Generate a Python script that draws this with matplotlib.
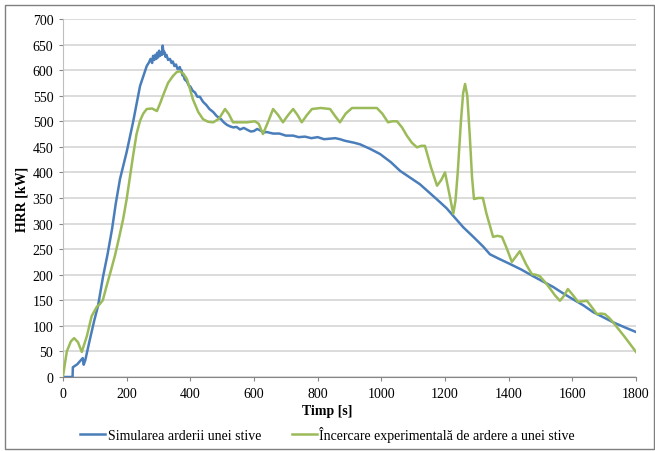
from matplotlib import pyplot as plt
from matplotlib.patches import Rectangle
import numpy as np

# Simulation (blue)
sim_t = [0, 30, 31, 45, 62, 65, 70, 85, 98, 110, 126, 140, 154, 166, 179, 200, 220,
         242, 263, 270, 275, 280, 283, 287, 290, 293, 296, 299, 302, 305, 308, 311, 313,
         316, 318, 322, 325, 330, 336, 341, 345, 350, 355, 360, 367, 370, 372, 375, 378,
         382, 389, 395, 400, 407, 415, 422, 430, 440, 450, 460, 472, 483, 495, 505, 515,
         525, 535, 545, 556, 568, 580, 590, 600, 610, 620, 630, 640, 660, 680, 700, 723,
         740, 760, 780, 800, 820, 839, 855, 870, 885, 900, 915, 933, 965, 996, 1030, 1059,
         1090, 1121, 1150, 1184, 1205, 1226, 1257, 1289, 1320, 1341, 1370, 1404, 1440,
         1477, 1510, 1540, 1570, 1602, 1635, 1665, 1700, 1728, 1765, 1800]
sim_v = [0, 0, 19, 25, 37, 24, 33, 75, 110, 139, 197, 240, 289, 340, 387, 440, 498,
         569, 608, 615, 622, 614, 628, 620, 630, 622, 634, 625, 638, 628, 634, 630, 648,
         632, 636, 626, 630, 620, 622, 614, 617, 608, 611, 602, 606, 598, 600, 590, 592,
         582, 578, 570, 568, 560, 556, 548, 548, 538, 532, 524, 518, 510, 505, 498, 493,
         490, 488, 489, 484, 487, 483, 480, 481, 485, 482, 478, 479, 476, 476, 472, 472,
         469, 470, 467, 469, 465, 466, 467, 465, 462, 460, 458, 455, 446, 436, 420, 403,
         390, 377, 361, 342, 330, 315, 293, 274, 255, 240, 231, 221, 210,
         197, 186, 176, 164, 152, 140, 127, 116, 107, 97, 88]

# Experiment (green)
exp_t = [0, 12, 25, 35, 47, 59, 75, 90, 106, 116, 125, 137, 150, 163, 176, 189, 200,
         210, 220, 231, 242, 252, 263, 280, 295, 305, 314, 330, 346, 357, 367, 378, 389,
         398, 408, 425, 440, 456, 472, 490, 509, 521, 534, 556, 578, 603, 615, 628, 645,
         660, 676, 691, 707, 723, 737, 750, 766, 782, 810, 839, 855, 870, 888, 908, 950,
         986, 1003, 1021, 1035, 1049, 1065, 1080, 1096, 1112, 1125, 1137, 1156, 1175, 1188,
         1200, 1213, 1226, 1233, 1240, 1250, 1257, 1263, 1270, 1278, 1285, 1291, 1305,
         1319, 1330, 1341, 1351, 1365, 1379, 1395, 1410, 1422, 1435, 1455, 1473, 1485,
         1498, 1515, 1530, 1545, 1561, 1573, 1586, 1602, 1618, 1632, 1646, 1662, 1677,
         1690, 1702, 1715, 1728, 1765, 1800]
exp_v = [2, 50, 70, 76, 68, 49, 80, 119, 137, 143, 150, 178, 207, 237, 272, 309, 348,
         390, 432, 475, 501, 515, 524, 525, 520, 535, 550, 575, 589, 596, 598, 593, 583,
         565, 543, 518, 504, 499, 498, 505, 524, 514, 498, 498, 498, 500, 495, 475, 500,
         524, 512, 498, 512, 524, 512, 498, 512, 524, 526, 524, 510, 498, 515, 526, 526,
         526, 515, 498, 500, 500, 488, 472, 458, 449, 452, 452, 410, 374, 385,
         400, 360, 319, 345, 400, 500, 555, 573, 550, 470, 390, 348, 350,
         350, 320, 296, 274, 276, 274, 250, 225, 235, 246, 220, 201, 200,
         197, 185, 173, 160, 149, 158, 172, 160, 147, 148, 149, 136, 123,
         124, 123, 116, 107, 78, 49]

sim_label = "Simularea arderii unei stive"
exp_label = "Încercare experimentală de ardere a unei stive"
x_ticks = list(range(0, 1801, 200))
y_ticks = list(range(0, 701, 50))

plt.rcParams['font.family'] = ['Liberation Serif', 'DejaVu Serif']

fig = plt.figure(figsize=(6.55, 4.52), dpi=100)
ax = fig.add_axes([63 / 655, 1 - 378 / 452, 573 / 655, 358 / 452])

ax.plot(sim_t, sim_v, color='#4a7ebb', lw=1.8, label=sim_label, zorder=3)
ax.plot(exp_t, exp_v, color='#9bbb59', lw=1.8, label=exp_label, zorder=3)

ax.set_xlim(0, 1800)
ax.set_ylim(0, 700)
ax.set_xticks(x_ticks)
ax.set_yticks(y_ticks)
ax.tick_params(labelsize=10, length=3, width=0.8, color='#868686', pad=4)
ax.grid(axis='y', color='#d9d9d9', lw=1.3)
ax.set_axisbelow(True)
for s in ['top', 'right']:
    ax.spines[s].set_visible(False)
ax.spines['left'].set_color('#bfbfbf')
ax.spines['bottom'].set_color('#868686')

fig.text(0.5, 1 - 412 / 452, 'Timp [s]', ha='center', va='center',
         fontsize=10, fontweight='bold')
fig.text(22 / 655, 1 - 199 / 452, 'HRR [kW]', ha='center', va='center',
         rotation=90, fontsize=10, fontweight='bold')

fig.legend(loc='center', bbox_to_anchor=(0.5, 1 - 435 / 452), ncol=2,
           frameon=False, fontsize=10, handlelength=1.8, columnspacing=2.2,
           handletextpad=0.2)

fig.patches.append(Rectangle((5 / 655, 2 / 452), 649 / 655, 444 / 452,
                             transform=fig.transFigure, fill=False,
                             edgecolor='#7f7f7f', lw=1))

fig.savefig('out.png', dpi=100)
